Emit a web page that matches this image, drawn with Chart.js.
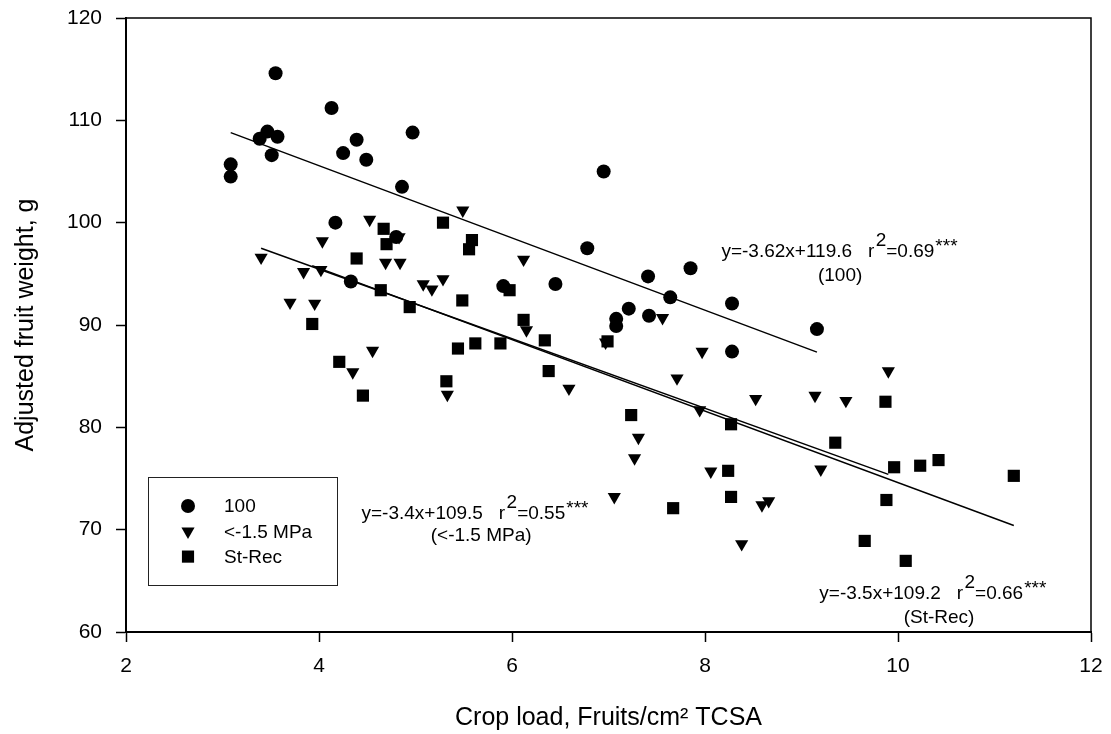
<!DOCTYPE html>
<html>
<head>
<meta charset="utf-8">
<script src="https://cdn.jsdelivr.net/npm/chart.js@4.4.1/dist/chart.umd.min.js"></script>
<style>
  html, body { margin: 0; padding: 0; background: #fff; }
  canvas { display: block; }
</style>
</head>
<body>
<canvas id="chart" width="1111" height="734"></canvas>
<script>
// Adjusted fruit weight vs crop load, three irrigation groups

// ── data ───────────────────────────────────────────────────────────────────
// 100
const loadFull = [3.085, 3.085, 3.385, 3.465, 3.51, 3.55, 3.57, 4.13, 4.17, 4.25, 4.33, 4.39, 4.49, 4.80, 4.86,
  4.97, 5.91, 6.45, 6.78, 6.95, 7.08, 7.08, 7.21, 7.41, 7.42, 7.64, 7.85, 8.28, 8.28, 9.16];
const wtFull = [105.7, 104.5, 108.2, 108.9, 106.6, 114.6, 108.4, 111.2, 100.0, 106.8, 94.25, 108.1, 106.15, 98.6, 103.5,
  108.8, 93.8, 94.0, 97.5, 105.0, 90.6, 89.9, 91.6, 94.75, 90.9, 92.7, 95.55, 92.1, 87.4, 89.6];

// <-1.5 MPa
const loadStress = [3.40, 3.70, 3.84, 3.955, 4.02, 4.035, 4.35, 4.525, 4.555, 4.69, 4.83, 4.84, 5.08, 5.17, 5.285,
  5.33, 5.49, 6.12, 6.15, 6.59, 6.97, 7.06, 7.27, 7.31, 7.56, 7.71, 7.945, 7.97, 8.06, 8.38, 8.525, 8.59, 8.66,
  9.14, 9.20, 9.46, 9.90];
const wtStress = [96.6, 92.2, 95.2, 92.1, 95.4, 98.2, 85.4, 100.3, 87.5, 96.1, 98.6, 96.1, 94.0, 93.5, 94.5,
  83.2, 101.2, 96.4, 89.5, 83.8, 88.3, 73.2, 77.0, 79.0, 90.7, 84.8, 81.7, 87.4, 75.7, 68.6, 82.8, 72.4, 72.8,
  83.1, 75.9, 82.6, 85.5];

// St-Rec
const loadRec = [3.93, 4.21, 4.39, 4.455, 4.64, 4.67, 4.70, 4.94, 5.285, 5.32, 5.44, 5.485, 5.555, 5.585, 5.62,
  5.88, 5.975, 6.12, 6.34, 6.38, 6.99, 7.235, 7.67, 8.24, 8.27, 8.27, 9.35, 9.655, 9.87, 9.88, 9.96, 10.08,
  10.23, 10.42, 11.2];
const wtRec = [90.1, 86.4, 96.5, 83.1, 93.4, 99.4, 97.9, 91.75, 100.0, 84.5, 87.7, 92.4, 97.4, 98.3, 88.2,
  88.2, 93.4, 90.5, 88.5, 85.5, 88.4, 81.2, 72.1, 75.75, 80.3, 73.2, 78.5, 68.9, 82.5, 72.9, 76.1, 66.95,
  76.25, 76.8, 75.26];

// fitted lines, end points as drawn
const fitFullX = [3.085, 9.16],  fitFullY = [108.8, 87.35];
const fitStressX = [3.40, 9.90], fitStressY = [97.5, 75.4];
const fitRecX = [3.93, 11.2],    fitRecY = [95.8, 70.4];

const xTicks = [2, 4, 6, 8, 10, 12];
const yTicks = [60, 70, 80, 90, 100, 110, 120];

// equation labels (data units)
const notes = [
  { eq: "y=-3.62x+119.6", r2: "=0.69", at: [8.17, 96.6], grp: "(100)", grpAt: [9.40, 94.3] },
  { eq: "y=-3.4x+109.5", r2: "=0.55", at: [4.44, 71.05], grp: "(<-1.5 MPa)", grpAt: [5.68, 68.9] },
  { eq: "y=-3.5x+109.2", r2: "=0.66", at: [9.185, 63.2], grp: "(St-Rec)", grpAt: [10.425, 60.9] },
];

const FAMILY = 'Arial, "Liberation Sans", sans-serif';
const NOTE_FONT = "19px " + FAMILY;

const pts = (xs, ys) => xs.map((x, i) => ({ x, y: ys[i] }));

function fitLine(xs, ys) {
  return {
    data: pts(xs, ys), showLine: true, pointRadius: 0, borderColor: "#000",
    borderWidth: 1.5, fill: false, inLegend: false,
  };
}

// no label overhang padding, the plot box is set by layout padding alone
function noOverhang(s) {
  s.paddingTop = 0; s.paddingBottom = 0; s.paddingLeft = 0; s.paddingRight = 0;
}

// ── plugins ────────────────────────────────────────────────────────────────
const framePlugin = {
  id: "frame",
  afterDraw(chart) {
    const { ctx, chartArea: a } = chart;
    ctx.save();
    ctx.strokeStyle = "#000";
    ctx.lineWidth = 1.5;
    ctx.beginPath();
    ctx.moveTo(a.left, a.top);
    ctx.lineTo(a.right, a.top);
    ctx.lineTo(a.right, a.bottom);
    ctx.stroke();
    ctx.restore();
  },
};

const notesPlugin = {
  id: "notes",
  afterDatasetsDraw(chart) {
    const { ctx } = chart;
    const xs = chart.scales.x, ys = chart.scales.y;
    ctx.save();
    ctx.fillStyle = "#000";
    ctx.textBaseline = "alphabetic";
    notes.forEach(n => {
      ctx.font = NOTE_FONT;
      ctx.textAlign = "left";
      let px = xs.getPixelForValue(n.at[0]);
      const py = ys.getPixelForValue(n.at[1]);
      const head = n.eq + "   r";
      ctx.fillText(head, px, py);
      px += ctx.measureText(head).width + 1.5;
      ctx.fillText("2", px, py - 11);
      px += ctx.measureText("2").width;
      ctx.fillText(n.r2, px, py);
      px += ctx.measureText(n.r2).width + 1;
      ctx.fillText("***", px, py - 5);
      ctx.textAlign = "center";
      ctx.fillText(n.grp, xs.getPixelForValue(n.grpAt[0]), ys.getPixelForValue(n.grpAt[1]));
    });
    ctx.restore();
  },
};

const boxLegend = {
  id: "boxLegend",
  afterDraw(chart) {
    const { ctx, chartArea: a } = chart;
    const items = chart.data.datasets.filter(d => d.inLegend !== false);
    const bx = a.left + 22, by = a.bottom - 155, bw = 189, bh = 108;
    ctx.save();
    ctx.strokeStyle = "#222";
    ctx.lineWidth = 1;
    ctx.strokeRect(bx + 0.5, by + 0.5, bw, bh);
    ctx.font = "19px " + FAMILY;
    ctx.textAlign = "left";
    ctx.textBaseline = "middle";
    items.forEach((d, i) => {
      const cy = by + 29 + i * 25.3;
      ctx.fillStyle = "#000";
      ctx.strokeStyle = "#000";
      Chart.helpers.drawPoint(ctx, {
        pointStyle: d.pointStyle, radius: d.pointRadius, rotation: d.pointRotation || 0, borderWidth: 0,
      }, bx + 40, cy);
      ctx.fillStyle = "#000";
      ctx.fillText(d.label, bx + 76, cy + 1);
    });
    ctx.restore();
  },
};

// ── chart ──────────────────────────────────────────────────────────────────
new Chart(document.getElementById("chart"), {
  type: "scatter",
  data: {
    datasets: [
      { label: "100", data: pts(loadFull, wtFull), pointStyle: "circle", pointRadius: 7,
        backgroundColor: "#000", borderColor: "#000", borderWidth: 0 },
      { label: "<-1.5 MPa", data: pts(loadStress, wtStress), pointStyle: "triangle", pointRotation: 180,
        pointRadius: 7.6, backgroundColor: "#000", borderColor: "#000", borderWidth: 0 },
      { label: "St-Rec", data: pts(loadRec, wtRec), pointStyle: "rect", pointRadius: 8.6,
        backgroundColor: "#000", borderColor: "#000", borderWidth: 0 },
      fitLine(fitFullX, fitFullY),
      fitLine(fitStressX, fitStressY),
      fitLine(fitRecX, fitRecY),
    ],
  },
  options: {
    responsive: false,
    animation: false,
    devicePixelRatio: 1,
    layout: { padding: { top: 18, right: 20, left: 0, bottom: 0 } },
    plugins: { legend: { display: false }, tooltip: { enabled: false } },
    elements: { point: { hoverRadius: 0 } },
    scales: {
      x: {
        type: "linear", min: 2, max: 12,
        afterBuildTicks: s => { s.ticks = xTicks.map(v => ({ value: v })); },
        afterFit: s => { s.height = 102; noOverhang(s); },
        ticks: { color: "#000", font: { size: 21, family: FAMILY }, padding: 12, maxRotation: 0 },
        grid: { drawOnChartArea: false, drawTicks: true, tickLength: 10, tickWidth: 1.5, tickColor: "#000" },
        border: { display: true, color: "#000", width: 2 },
        title: { display: true, text: "Crop load, Fruits/cm\u00B2 TCSA", color: "#000",
          font: { size: 25, family: FAMILY }, padding: { top: 0, bottom: 1 } },
      },
      y: {
        type: "linear", min: 60, max: 120,
        afterBuildTicks: s => { s.ticks = yTicks.map(v => ({ value: v })); },
        afterFit: s => { s.width = 126; noOverhang(s); },
        ticks: { color: "#000", font: { size: 21, family: FAMILY }, padding: 14 },
        grid: { drawOnChartArea: false, drawTicks: true, tickLength: 10, tickWidth: 1.5, tickColor: "#000" },
        border: { display: true, color: "#000", width: 2 },
        title: { display: true, text: "Adjusted fruit weight, g", color: "#000",
          font: { size: 25, family: FAMILY }, padding: { top: 11, bottom: 0 } },
      },
    },
  },
  plugins: [framePlugin, notesPlugin, boxLegend],
});
</script>
</body>
</html>
